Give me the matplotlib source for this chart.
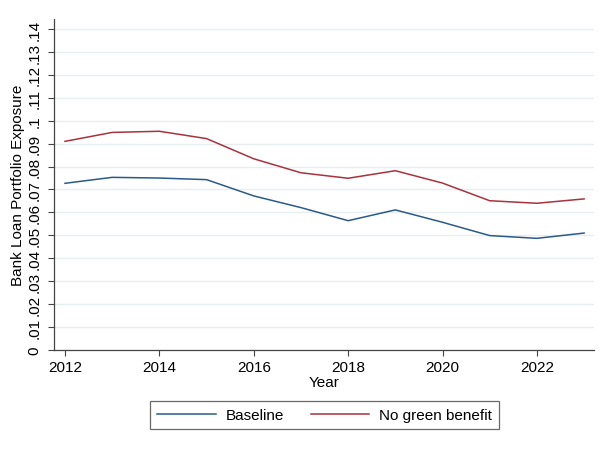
import matplotlib
matplotlib.use("Agg")
import matplotlib.pyplot as plt

plt.rcParams['font.family'] = ['Liberation Sans', 'DejaVu Sans']

years = [2012, 2013, 2014, 2015, 2016, 2017, 2018, 2019, 2020, 2021, 2022, 2023]
baseline = [0.0727, 0.0753, 0.0750, 0.0743, 0.0672, 0.0621, 0.0564, 0.0611,
            0.0557, 0.0499, 0.0487, 0.0510]
no_green = [0.0910, 0.0949, 0.0954, 0.0922, 0.0834, 0.0773, 0.0749, 0.0782,
            0.0728, 0.0651, 0.0640, 0.0659]

y_ticks = [i / 100 for i in range(15)]
y_tick_labels = ["0", ".01", ".02", ".03", ".04", ".05", ".06", ".07", ".08",
                 ".09", ".1", ".11", ".12", ".13", ".14"]
x_ticks = [2012, 2014, 2016, 2018, 2020, 2022]

blue = "#2a5a8a"
red = "#a8323e"
fs = 11

fig = plt.figure(figsize=(6.08, 4.56), dpi=100)
ax = fig.add_axes([0.0888, 0.2303, 0.8882, 0.7258])

ax.plot(years, baseline, color=blue, lw=1.1, label="Baseline")
ax.plot(years, no_green, color=red, lw=1.1, label="No green benefit")

ax.set_xlim(2011.767, 2023.21)
ax.set_ylim(0, 0.14436)
ax.set_yticks(y_ticks)
ax.set_yticklabels(y_tick_labels, rotation=90, va="center", fontsize=fs)
ax.set_xticks(x_ticks)
ax.set_xticklabels([str(x) for x in x_ticks], fontsize=fs)

ax.grid(axis="y", color="#e6eef0", lw=1.0)
ax.grid(axis="x", visible=False)
ax.set_axisbelow(True)

for side in ("top", "right"):
    ax.spines[side].set_visible(False)
for side in ("left", "bottom"):
    ax.spines[side].set_color("#444444")
    ax.spines[side].set_linewidth(0.9)
ax.tick_params(axis="both", length=4, width=0.8, color="#444444", direction="out")
ax.tick_params(axis="y", pad=5)
ax.tick_params(axis="x", pad=3.5)

ax.set_xlabel("Year", fontsize=fs, labelpad=0.5)
ax.set_ylabel("Bank Loan Portfolio Exposure", fontsize=fs, labelpad=2)

leg = fig.legend(loc="center", bbox_to_anchor=(0.5337, 0.0877), ncol=2,
                 fontsize=fs, frameon=True, fancybox=False,
                 handlelength=3.85, handletextpad=0.65, columnspacing=1.75,
                 borderpad=0.45, borderaxespad=0)
leg.get_frame().set_edgecolor("#444444")
leg.get_frame().set_linewidth(0.9)

fig.savefig("out.png", dpi=100)
